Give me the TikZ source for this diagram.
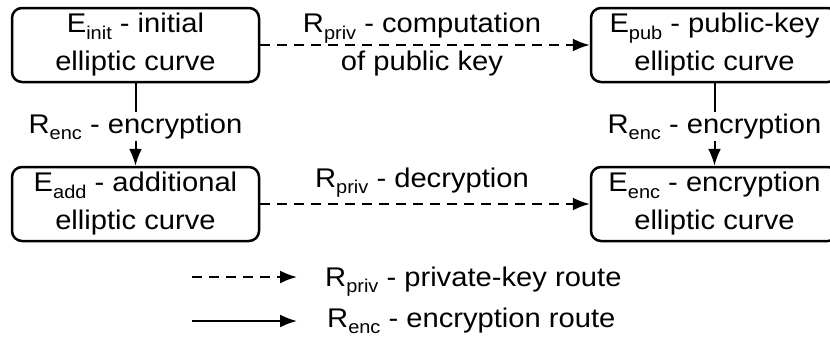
\documentclass[tikz,border=0pt]{standalone}
\usepackage{fontspec}
\setmainfont[FakeStretch=1.08]{Liberation Sans}
\usetikzlibrary{arrows.meta}
\newcommand\sbs[1]{\raisebox{-0.25em}{\fontsize{18.5}{18.5}\selectfont #1}}
\begin{document}
\begin{tikzpicture}[x=1pt,y=-1pt,
  box/.style={draw, line width=2.5pt, rounded corners=10pt, minimum width=247pt, minimum height=74pt, inner sep=0pt, align=center, font=\fontsize{27}{38}\selectfont},
  lbl/.style={align=center, font=\fontsize{27}{38}\selectfont, inner sep=1pt},
  conn/.style={line width=2pt, -{Latex[length=17pt,width=13pt]}},
  priv/.style={conn, dash pattern=on 10pt off 7pt}]
\clip (0,0) rectangle (830,338);
\useasboundingbox (0,0) rectangle (830,338);
\node[box] (init) at (135.5,45) {E\sbs{init} - initial\\elliptic curve};
\node[box] (pub) at (714.5,45) {E\sbs{pub} - public-key\\elliptic curve};
\node[box] (add) at (135.5,204) {E\sbs{add} - additional\\elliptic curve};
\node[box] (enc) at (714.5,204) {E\sbs{enc} - encryption\\elliptic curve};
\draw[priv] (init) -- (pub);
\draw[priv] (add) -- (enc);
\draw[conn] (init) -- (add);
\draw[conn] (pub) -- (enc);
\node[lbl] (l1) at (422,45) {R\sbs{priv} - computation\\of public key};
\node[lbl, anchor=base] (l2) at (422,187) {R\sbs{priv} - decryption};
\node[lbl, fill=white, anchor=base] (l3) at (135.5,133) {R\sbs{enc} - encryption};
\node[lbl, fill=white, anchor=base] (l4) at (714.5,133) {R\sbs{enc} - encryption};
\coordinate (d1) at (192,277);
\coordinate (d2) at (297,277);
\coordinate (s1) at (192,321);
\coordinate (s2) at (297,321);
\draw[priv] (d1) -- (d2);
\draw[conn] (s1) -- (s2);
\node[lbl, anchor=base west] (t1) at (324,286) {R\sbs{priv} - private-key route};
\node[lbl, anchor=base west] (t2) at (326,327) {R\sbs{enc} - encryption route};
\end{tikzpicture}
\end{document}
